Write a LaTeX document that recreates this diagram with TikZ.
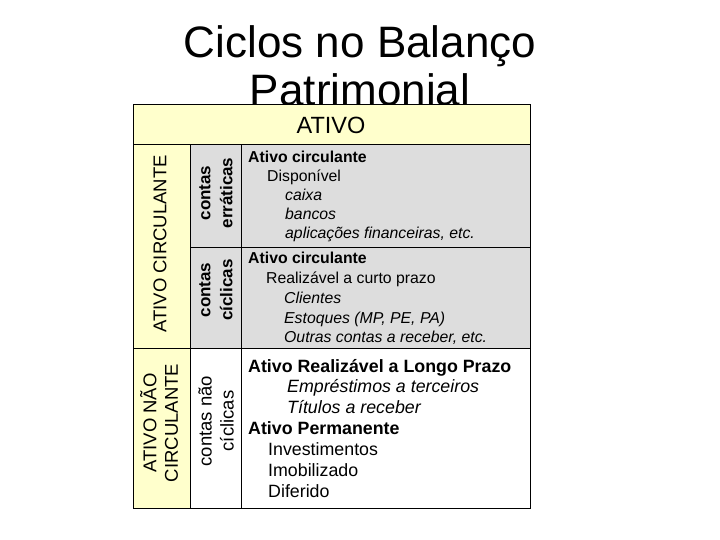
\documentclass[tikz,border=0pt]{standalone}
\usepackage{fontspec}
\setmainfont{Liberation Sans}
\definecolor{paleyellow}{HTML}{FFFFCC}
\definecolor{cellgray}{HTML}{DDDDDD}
\begin{document}
\begin{tikzpicture}[x=1pt,y=-1pt,
  cell/.style={draw=black, line width=1pt, inner sep=0pt, outer sep=0pt, anchor=north west},
  titletext/.style={font=\fontsize{44}{55}\selectfont, anchor=base, inner sep=0pt},
  sidetext/.style={rotate=90, align=center, inner sep=0pt, font=\fontsize{18.5}{21.5}\selectfont},
  kindtext/.style={rotate=90, align=center, inner sep=0pt},
  small/.style={anchor=base west, inner sep=0pt, font=\fontsize{15.8}{19}\selectfont},
  big/.style={anchor=base west, inner sep=0pt, font=\fontsize{17.8}{21}\selectfont}
]
\useasboundingbox (0,0) rectangle (720,540);
\fill[white] (0,0) rectangle (720,540);

% title
\node[titletext] (title1) at (360,58) {Ciclos no Balanço};
\node[titletext] (title2) at (360,106) {Patrimonial};

% cells
\node[cell, fill=paleyellow, minimum width=397pt, minimum height=40pt] (header) at (133,105) {};
\node[cell, fill=paleyellow, minimum width=57pt, minimum height=203pt] (acirc) at (133,145) {};
\node[cell, fill=paleyellow, minimum width=57pt, minimum height=160pt] (anc) at (133,348) {};
\node[cell, fill=cellgray, minimum width=51pt, minimum height=102pt] (cerr) at (190,145) {};
\node[cell, fill=cellgray, minimum width=51pt, minimum height=101pt] (ccic) at (190,247) {};
\node[cell, fill=white, minimum width=51pt, minimum height=160pt] (cnc) at (190,348) {};
\node[cell, fill=cellgray, minimum width=289pt, minimum height=102pt] (berr) at (241,145) {};
\node[cell, fill=cellgray, minimum width=289pt, minimum height=101pt] (bcic) at (241,247) {};
\node[cell, fill=white, minimum width=289pt, minimum height=160pt] (bnc) at (241,348) {};

% header text
\node[anchor=base, inner sep=0pt, font=\fontsize{23.5}{28}\selectfont] (ativo) at (331,134) {ATIVO};

% column 1
\node[sidetext] (tac) at (160,244) {ATIVO CIRCULANTE};
\node[sidetext] (tanc) at (159,423) {ATIVO NÃO\\CIRCULANTE};

% column 2
\node[kindtext, font=\fontsize{17}{22}\selectfont\bfseries] (terr) at (216,193) {contas\\erráticas};
\node[kindtext, font=\fontsize{17}{22}\selectfont\bfseries] (tcic) at (216,290) {contas\\cíclicas};
\node[kindtext, font=\fontsize{18.5}{22}\selectfont] (tnc) at (216,421) {contas não\\cíclicas};

% block 1
\node[small, font=\fontsize{15.8}{19}\selectfont\bfseries] (b1a) at (248,163) {Ativo circulante};
\node[small] (b1b) at (267,182) {Disponível};
\node[small, font=\fontsize{15.8}{19}\selectfont\itshape] (b1c) at (285,201) {caixa};
\node[small, font=\fontsize{15.8}{19}\selectfont\itshape] (b1d) at (285,220) {bancos};
\node[small, font=\fontsize{15.8}{19}\selectfont\itshape] (b1e) at (285,239) {aplicações financeiras, etc.};

% block 2
\node[small, font=\fontsize{15.8}{19}\selectfont\bfseries] (b2a) at (248,263) {Ativo circulante};
\node[small] (b2b) at (266,283) {Realizável a curto prazo};
\node[small, font=\fontsize{15.8}{19}\selectfont\itshape] (b2c) at (284,303) {Clientes};
\node[small, font=\fontsize{15.8}{19}\selectfont\itshape] (b2d) at (284,323) {Estoques (MP, PE, PA)};
\node[small, font=\fontsize{15.8}{19}\selectfont\itshape] (b2e) at (284,342) {Outras contas a receber, etc.};

% block 3
\node[big, font=\fontsize{17.8}{21}\selectfont\bfseries] (b3a) at (248,372) {Ativo Realizável a Longo Prazo};
\node[big, font=\fontsize{17.8}{21}\selectfont\itshape] (b3b) at (287,392) {Empréstimos a terceiros};
\node[big, font=\fontsize{17.8}{21}\selectfont\itshape] (b3c) at (287,413) {Títulos a receber};
\node[big, font=\fontsize{17.8}{21}\selectfont\bfseries] (b3d) at (248,434) {Ativo Permanente};
\node[big] (b3e) at (268,455) {Investimentos};
\node[big] (b3f) at (268,476) {Imobilizado};
\node[big] (b3g) at (268,497) {Diferido};
\end{tikzpicture}
\end{document}
